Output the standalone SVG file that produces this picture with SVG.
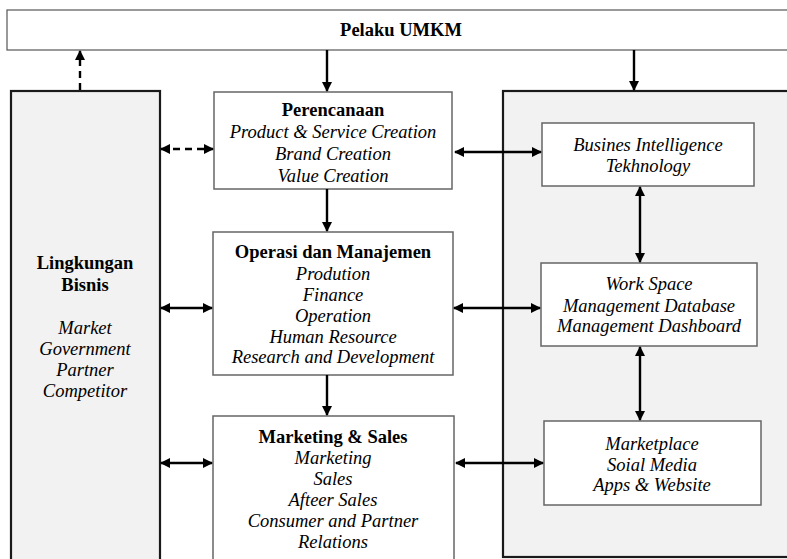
<svg xmlns="http://www.w3.org/2000/svg" width="787" height="559" viewBox="0 0 787 559">
<style>
text{font-family:"Liberation Serif","Times New Roman",serif;font-size:18.5px;text-anchor:middle;fill:#000}
.b{font-weight:bold}
.i{font-style:italic}
.outer{fill:#f2f2f2;stroke:#1a1a1a;stroke-width:2.2}
.inner{fill:#fff;stroke:#666;stroke-width:1.5}
.top{fill:#fff;stroke:#555;stroke-width:1.2}
.c{stroke:#000;stroke-width:2.4;fill:none}
.d{stroke-dasharray:7,5}
</style>
<defs>
<marker id="ah" markerWidth="10" markerHeight="10" refX="9" refY="5" orient="auto-start-reverse" markerUnits="userSpaceOnUse">
<path d="M0,0 L10,5 L0,10 Z" fill="#000"/>
</marker>
</defs>
<g id="pelaku">
<rect class="top" x="7" y="10" width="795" height="40"/>
<text class="b" x="401" y="36">Pelaku UMKM</text>
</g>
<g id="lingkungan">
<rect class="outer" x="11" y="91" width="149" height="480"/>
<text class="b" x="85" y="269">Lingkungan</text>
<text class="b" x="85" y="291">Bisnis</text>
<text class="i" x="85" y="334">Market</text>
<text class="i" x="85" y="355">Government</text>
<text class="i" x="85" y="376">Partner</text>
<text class="i" x="85" y="397">Competitor</text>
</g>
<g id="teknologi">
<rect class="outer" x="503" y="91" width="300" height="466"/>
</g>
<g id="perencanaan">
<rect class="inner" x="214" y="92" width="238" height="97"/>
<text class="b" x="333" y="116">Perencanaan</text>
<text class="i" x="333" y="138">Product &amp; Service Creation</text>
<text class="i" x="333" y="160">Brand Creation</text>
<text class="i" x="333" y="182">Value Creation</text>
</g>
<g id="operasi">
<rect class="inner" x="213" y="232" width="240" height="143"/>
<text class="b" x="333" y="258">Operasi dan Manajemen</text>
<text class="i" x="333" y="280">Prodution</text>
<text class="i" x="333" y="301">Finance</text>
<text class="i" x="333" y="322">Operation</text>
<text class="i" x="333" y="343">Human Resource</text>
<text class="i" x="333" y="363">Research and Development</text>
</g>
<g id="marketing">
<rect class="inner" x="213" y="416" width="241" height="160"/>
<text class="b" x="333" y="443">Marketing &amp; Sales</text>
<text class="i" x="333" y="464">Marketing</text>
<text class="i" x="333" y="485">Sales</text>
<text class="i" x="333" y="506">Afteer Sales</text>
<text class="i" x="333" y="527">Consumer and Partner</text>
<text class="i" x="333" y="548">Relations</text>
</g>
<g id="bi">
<rect class="inner" x="542" y="123" width="212" height="63"/>
<text class="i" x="648" y="151">Busines Intelligence</text>
<text class="i" x="648" y="172">Tekhnology</text>
</g>
<g id="workspace">
<rect class="inner" x="541" y="263" width="216" height="83"/>
<text class="i" x="649" y="290">Work Space</text>
<text class="i" x="649" y="312">Management Database</text>
<text class="i" x="649" y="332">Management Dashboard</text>
</g>
<g id="marketplace">
<rect class="inner" x="544" y="421" width="217" height="84"/>
<text class="i" x="652" y="450">Marketplace</text>
<text class="i" x="652" y="471">Soial Media</text>
<text class="i" x="652" y="491">Apps &amp; Website</text>
</g>
<g id="connectors">
<line class="c d" x1="80" y1="90" x2="80" y2="51" marker-end="url(#ah)"/>
<line class="c" x1="327" y1="50" x2="327" y2="91" marker-end="url(#ah)"/>
<line class="c" x1="634" y1="50" x2="634" y2="90" marker-end="url(#ah)"/>
<line class="c" x1="327" y1="189" x2="327" y2="231" marker-end="url(#ah)"/>
<line class="c" x1="327" y1="375" x2="327" y2="415" marker-end="url(#ah)"/>
<line class="c d" x1="161" y1="149" x2="213" y2="149" marker-start="url(#ah)" marker-end="url(#ah)"/>
<line class="c" x1="161" y1="308" x2="212" y2="308" marker-start="url(#ah)" marker-end="url(#ah)"/>
<line class="c" x1="161" y1="463" x2="212" y2="463" marker-start="url(#ah)" marker-end="url(#ah)"/>
<line class="c" x1="455" y1="152" x2="541" y2="152" marker-start="url(#ah)" marker-end="url(#ah)"/>
<line class="c" x1="454" y1="308" x2="540" y2="308" marker-start="url(#ah)" marker-end="url(#ah)"/>
<line class="c" x1="456" y1="463" x2="543" y2="463" marker-start="url(#ah)" marker-end="url(#ah)"/>
<line class="c" x1="640" y1="187" x2="640" y2="262" marker-start="url(#ah)" marker-end="url(#ah)"/>
<line class="c" x1="640" y1="347" x2="640" y2="420" marker-start="url(#ah)" marker-end="url(#ah)"/>
</g>
</svg>
